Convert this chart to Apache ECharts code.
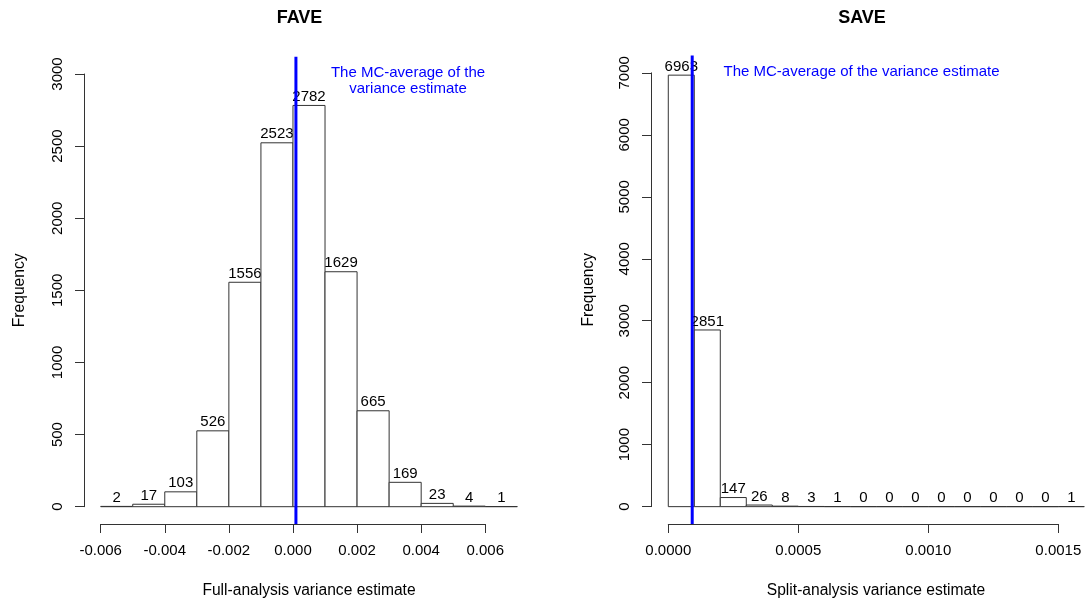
<!DOCTYPE html>
<html><head><meta charset="utf-8">
<script src="https://cdn.jsdelivr.net/npm/echarts@6/dist/echarts.min.js"></script>
<style>html,body{margin:0;padding:0;background:#fff}#c{width:1086px;height:604px}</style>
</head><body><div id="c"></div>
<script>
// ---- data ----
const faveBreaks = [-0.006,-0.005,-0.004,-0.003,-0.002,-0.001,0,0.001,0.002,0.003,0.004,0.005,0.006,0.007];
const faveCounts = [2,17,103,526,1556,2523,2782,1629,665,169,23,4,1];
const saveBreaks = [0,0.0001,0.0002,0.0003,0.0004,0.0005,0.0006,0.0007,0.0008,0.0009,0.0010,0.0011,0.0012,0.0013,0.0014,0.0015,0.0016];
const saveCounts = [6963,2851,147,26,8,3,1,0,0,0,0,0,0,0,0,1];
const mcAverage = 0.000092;
const faveXTicks = {min:-0.006, max:0.006, step:0.002};
const faveYTicks = {min:0, max:3000, step:500};
const saveXTicks = {min:0, max:0.0015, step:0.0005};
const saveYTicks = {min:0, max:7000, step:1000};

// ---- layout ----
const FONT = '"Liberation Sans", Arial, Helvetica, sans-serif';
const L = {left:84, top:56.7, width:450, height:467.3, xMin:-0.00652, xMax:0.00752, yMin:-120, yMax:3120};
const R = {left:651, top:55.5, width:435, height:468.5, xMin:-0.0000665, xMax:0.0016065, yMin:-280, yMax:7280};
function px(P, v){ return P.left + (v - P.xMin)/(P.xMax - P.xMin)*P.width; }
function py(P, v){ return P.top + P.height - (v - P.yMin)/(P.yMax - P.yMin)*P.height; }

function bins(br, ct){ return ct.map((c,i)=>[br[i], br[i+1], c]); }

function histItem(params, api){
  const x0 = api.value(0), x1 = api.value(1), c = api.value(2);
  const p0 = api.coord([x0, 0]), p1 = api.coord([x1, c]);
  return {type:'group', children:[
    {type:'rect', shape:{x:p0[0], y:p1[1], width:p1[0]-p0[0], height:p0[1]-p1[1]},
     style:{fill:'#fff', stroke:'#333', lineWidth:1}},
    {type:'text', style:{text:String(c), x:(p0[0]+p1[0])/2, y:p1[1]-1,
     align:'center', verticalAlign:'bottom', font:'15px '+FONT, fill:'#000'}}
  ]};
}

const axisCol = '#333';
function dataGrid(P){ return {left:P.left, top:P.top, width:P.width, height:P.height}; }
function xAxisGrid(P, T){ const a=px(P,T.min), b=px(P,T.max); return {left:a, width:b-a, top:P.top+P.height-24, height:24}; }
function yAxisGrid(P, T){ const a=py(P,T.max), b=py(P,T.min); return {left:P.left, width:10, top:a, height:b-a}; }

function visXAxis(gi, T, dec){
  return {type:'value', gridIndex:gi, min:T.min, max:T.max, interval:T.step, position:'bottom',
    axisLine:{show:true, lineStyle:{color:axisCol, width:1}},
    axisTick:{show:true, length:9, inside:false, lineStyle:{color:axisCol}},
    axisLabel:{show:true, margin:19, fontSize:15, fontFamily:FONT, color:'#000', formatter:v=>Number(v).toFixed(dec)},
    splitLine:{show:false}};
}
function visYAxis(gi, T){
  return {type:'value', gridIndex:gi, min:T.min, max:T.max, interval:T.step, position:'left',
    axisLine:{show:true, lineStyle:{color:axisCol, width:1}},
    axisTick:{show:true, length:9, inside:false, lineStyle:{color:axisCol}},
    axisLabel:{show:true, margin:19, fontSize:15, fontFamily:FONT, color:'#000', rotate:90, formatter:v=>String(Math.round(v))},
    splitLine:{show:false}};
}
function hidden(type, gi, extra){ return Object.assign({type:type, gridIndex:gi, show:false}, extra||{}); }
function dataX(gi, P){ return hidden('value', gi, {min:P.xMin, max:P.xMax}); }
function dataY(gi, P, gap){
  return {type:'value', gridIndex:gi, min:P.yMin, max:P.yMax,
    axisLine:{show:false}, axisTick:{show:false}, axisLabel:{show:false}, splitLine:{show:false},
    name:'Frequency', nameLocation:'middle', nameRotate:90, nameGap:gap,
    nameTextStyle:{fontSize:15.6, fontFamily:FONT, color:'#000'}};
}

const chart = echarts.init(document.getElementById('c'), null, {renderer:'canvas'});
chart.setOption({
  animation:false,
  backgroundColor:'#fff',
  grid:[dataGrid(L), xAxisGrid(L, faveXTicks), yAxisGrid(L, faveYTicks),
        dataGrid(R), xAxisGrid(R, saveXTicks), yAxisGrid(R, saveYTicks)],
  xAxis:[dataX(0, L), visXAxis(1, faveXTicks, 3), hidden('value', 2, {min:0, max:1}),
         dataX(3, R), visXAxis(4, saveXTicks, 4), hidden('value', 5, {min:0, max:1})],
  yAxis:[dataY(0, L, 56), hidden('value', 1, {min:0, max:1}), visYAxis(2, faveYTicks),
         dataY(3, R, 54), hidden('value', 4, {min:0, max:1}), visYAxis(5, saveYTicks)],
  series:[
    {type:'custom', xAxisIndex:0, yAxisIndex:0, data:bins(faveBreaks, faveCounts), renderItem:histItem, clip:false, z:2},
    {type:'line', xAxisIndex:0, yAxisIndex:0, data:[[mcAverage, L.yMin],[mcAverage, L.yMax]],
     symbol:'none', lineStyle:{color:'#0000ff', width:3}, z:10, silent:true},
    {type:'custom', xAxisIndex:3, yAxisIndex:3, data:bins(saveBreaks, saveCounts), renderItem:histItem, clip:false, z:2},
    {type:'line', xAxisIndex:3, yAxisIndex:3, data:[[mcAverage, R.yMin],[mcAverage, R.yMax]],
     symbol:'none', lineStyle:{color:'#0000ff', width:3}, z:10, silent:true}
  ],
  graphic:[
    {type:'text', z:20, style:{text:'FAVE', x:299.5, y:18, align:'center', verticalAlign:'middle', font:'bold 18px '+FONT, fill:'#000'}},
    {type:'text', z:20, style:{text:'SAVE', x:862, y:18, align:'center', verticalAlign:'middle', font:'bold 18px '+FONT, fill:'#000'}},
    {type:'text', z:20, style:{text:'The MC-average of the\nvariance estimate', x:408, y:81, align:'center', verticalAlign:'middle', lineHeight:16, font:'15px '+FONT, fill:'#0000ff'}},
    {type:'text', z:20, style:{text:'The MC-average of the variance estimate', x:861.5, y:71.7, align:'center', verticalAlign:'middle', font:'15px '+FONT, fill:'#0000ff'}},
    {type:'text', z:20, style:{text:'Full-analysis variance estimate', x:309, y:591, align:'center', verticalAlign:'middle', font:'15.6px '+FONT, fill:'#000'}},
    {type:'text', z:20, style:{text:'Split-analysis variance estimate', x:876, y:591, align:'center', verticalAlign:'middle', font:'15.6px '+FONT, fill:'#000'}}
  ]
});
</script>
</body></html>
